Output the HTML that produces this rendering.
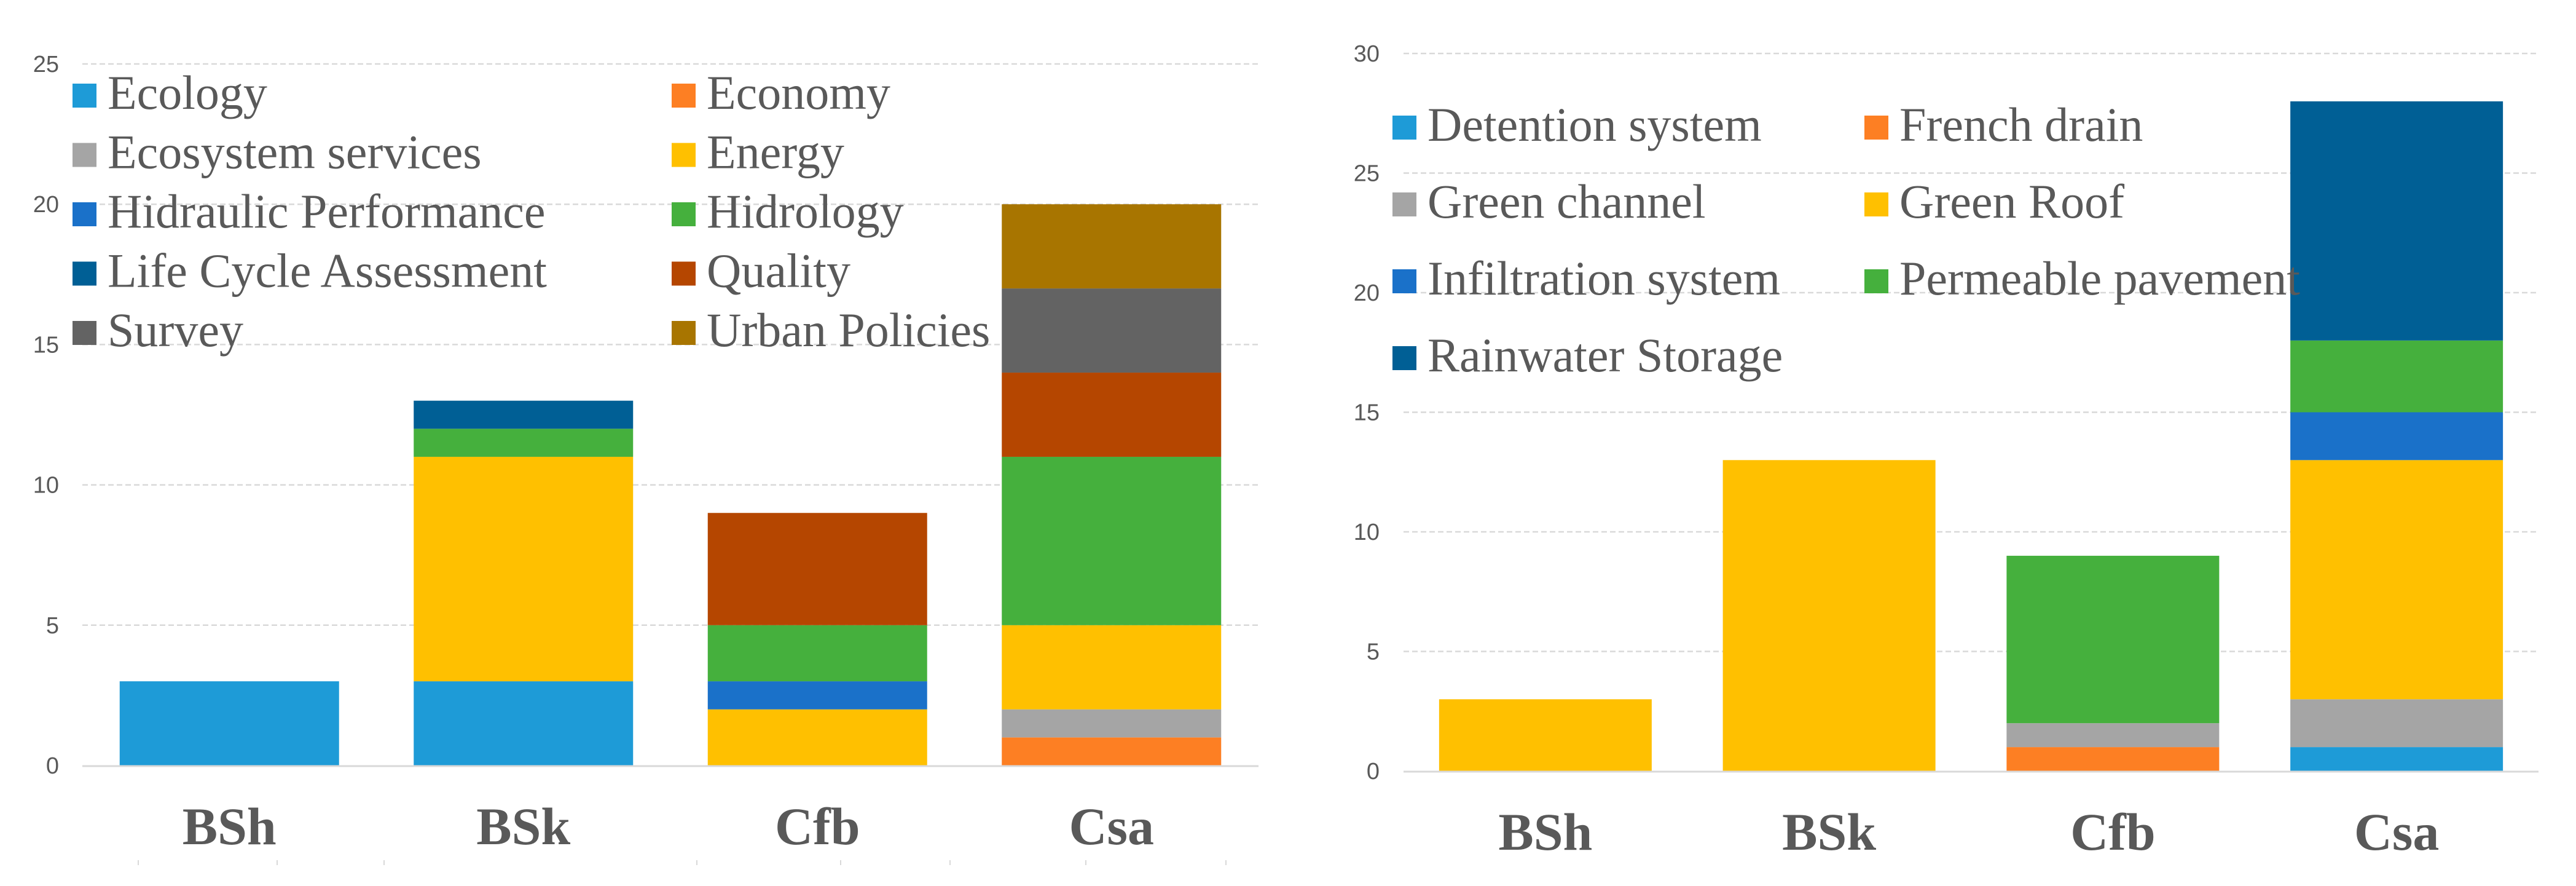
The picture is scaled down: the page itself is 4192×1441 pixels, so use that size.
<!DOCTYPE html>
<html><head><meta charset="utf-8"><style>
html,body{margin:0;padding:0;background:#fff;}
svg{display:block;}
.tick{font-family:"Liberation Sans Narrow","Liberation Sans",sans-serif;font-size:38px;fill:#595959;}
.cat{font-family:"Liberation Serif",serif;font-weight:bold;font-size:86px;fill:#595959;}
.leg{font-family:"Liberation Serif",serif;font-size:78px;fill:#595959;}
</style></head><body>
<svg id="chart" width="4192" height="1441" viewBox="0 0 4192 1441" xmlns="http://www.w3.org/2000/svg">
<rect width="4192" height="1441" fill="#fff"/>
</svg>
<script>
const categories = ["BSh","BSk","Cfb","Csa"];
// Left chart
const leftSeries = ["Ecology","Economy","Ecosystem services","Energy","Hidraulic Performance","Hidrology","Life Cycle Assessment","Quality","Survey","Urban Policies"];
const leftColors = ["#1e9bd7","#fd7f23","#a5a5a5","#ffc000","#1a71c9","#45b03d","#005f95","#b54600","#636363","#a87500"];
const leftEcology   = [3,3,0,0];
const leftEconomy   = [0,0,0,1];
const leftEcosys    = [0,0,0,1];
const leftEnergy    = [0,8,2,3];
const leftHidraulic = [0,0,1,0];
const leftHidrology = [0,1,2,6];
const leftLCA       = [0,1,0,0];
const leftQuality   = [0,0,4,3];
const leftSurvey    = [0,0,0,3];
const leftUrban     = [0,0,0,3];
const leftTicks = [0,5,10,15,20,25];
// Right chart
const rightSeries = ["Detention system","French drain","Green channel","Green Roof","Infiltration system","Permeable pavement","Rainwater Storage"];
const rightColors = ["#1e9bd7","#fd7f23","#a5a5a5","#ffc000","#1a71c9","#45b03d","#005f95"];
const rightDetention = [0,0,0,1];
const rightFrench    = [0,0,1,0];
const rightChannel   = [0,0,1,2];
const rightRoof      = [3,13,0,10];
const rightInfil     = [0,0,0,2];
const rightPermeable = [0,0,7,3];
const rightRain      = [0,0,0,10];
const rightTicks = [0,5,10,15,20,25,30];

const NS="http://www.w3.org/2000/svg";
const svg=document.getElementById('chart');
function mk(tag,attrs,parent,text){const e=document.createElementNS(NS,tag);for(const k in attrs)e.setAttribute(k,attrs[k]);if(text!==undefined)e.textContent=text;(parent||svg).appendChild(e);return e;}

function drawChart(cfg){
  const g=mk('g',{});
  
  
  const y=v=>cfg.y0-(v/cfg.ymax)*(cfg.y0-cfg.yTop);
  const band=(cfg.x1-cfg.x0)/categories.length;
  const xc=i=>cfg.x0+band*(i+0.5);
  cfg.ticks.forEach(t=>{
    if(t>0){
      const l=mk('line',{x1:cfg.x0,x2:cfg.x1,y1:y(t),y2:y(t),stroke:'#d9d9d9','stroke-width':2.5,'stroke-dasharray':'9 5'},g);
      
      
    }
    const tx=mk('text',{x:cfg.labelX,y:y(t)+13,'text-anchor':'end',class:'tick'},g,String(t));
    
    
  });
  cfg.series.forEach((vals,s)=>{
    vals.forEach((v,i)=>{
      if(v<=0)return;
      let base=0;for(let k=0;k<s;k++)base+=cfg.series[k][i];
      const r=mk('rect',{x:xc(i)-cfg.barW/2,y:y(base+v),width:cfg.barW,height:y(base)-y(base+v),fill:cfg.colors[s]},g);
      
      
    });
  });
  const ax=mk('line',{x1:cfg.x0,x2:cfg.x1,y1:cfg.y0+1,y2:cfg.y0+1,stroke:'#d9d9d9','stroke-width':3},g);
  
  
  categories.forEach((c,i)=>{
    const t=mk('text',{x:xc(i),y:cfg.catY,'text-anchor':'middle',class:'cat'},g,c);
    
    
  });
  cfg.names.forEach((n,k)=>{
    const col=k%2,row=Math.floor(k/2);
    const sx=cfg.legX[col],by=cfg.legY0+row*cfg.legDy;
    const lg=mk('g',{},g);
    
    
    mk('rect',{x:sx,y:by-41,width:39,height:39,fill:cfg.colors[k]},lg);
    mk('text',{x:sx+57,y:by,class:'leg'},lg,n);
  });
  (cfg.minorTicks||[]).forEach(x=>{
    mk('line',{x1:x,x2:x,y1:1399,y2:1407,stroke:'#d9d9d9','stroke-width':2},g);
  });
}

drawChart({name:'left-chart',x0:134,x1:2048,y0:1245,yTop:104,ymax:25,barW:357,labelX:96,catY:1373,
  ticks:leftTicks,series:[leftEcology,leftEconomy,leftEcosys,leftEnergy,leftHidraulic,leftHidrology,leftLCA,leftQuality,leftSurvey,leftUrban],
  colors:leftColors,names:leftSeries,legX:[118,1093],legY0:177,legDy:96.5,
  minorTicks:[225,451,625,1134,1368,1546,1767,1995]});
drawChart({name:'right-chart',x0:2284,x1:4131,y0:1254,yTop:87,ymax:30,barW:346,labelX:2245,catY:1382,
  ticks:rightTicks,series:[rightDetention,rightFrench,rightChannel,rightRoof,rightInfil,rightPermeable,rightRain],
  colors:rightColors,names:rightSeries,legX:[2266,3034],legY0:229,legDy:125});
</script>
</body></html>
